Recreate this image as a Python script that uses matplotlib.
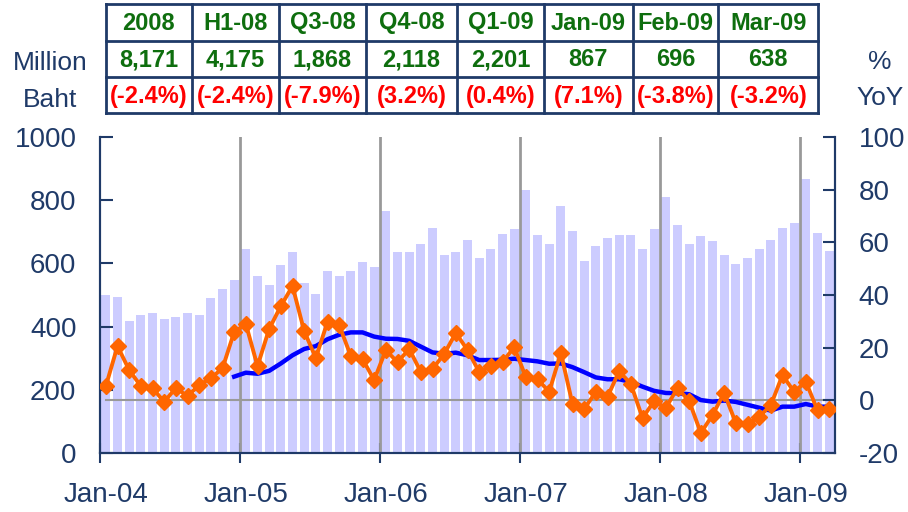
import numpy as np
import matplotlib
matplotlib.use("Agg")
import matplotlib.pyplot as plt

plt.rcParams["font.family"] = ["Liberation Sans", "DejaVu Sans"]
plt.rcParams["axes.unicode_minus"] = False

NAVY = "#1F3A68"
GREEN = "#0E6E0E"

# monthly values, Jan-04 .. Mar-09 (million baht)
sales = [500, 494, 418, 437, 443, 424, 430, 443, 437, 490, 519, 547,
         645, 560, 532, 595, 636, 538, 503, 576, 560, 576, 604, 589,
         766, 636, 636, 661, 712, 627, 636, 674, 617, 645, 693, 709,
         832, 690, 661, 782, 703, 608, 655, 680, 690, 690, 645, 709,
         810, 721, 661, 687, 671, 627, 598, 617, 645, 674, 712, 728,
         867, 696, 638]

# % YoY growth
yoy = [5.4, 20.6, 11.5, 5.4, 4.7, -0.6, 4.7, 1.6, 5.8, 8.4, 12.2, 25.9,
       29.0, 13.0, 27.1, 35.8, 43.4, 26.3, 16.1, 29.8, 28.6, 16.8, 15.7, 7.7,
       19.1, 14.5, 19.5, 10.8, 11.9, 17.6, 25.6, 19.1, 10.8, 13.0, 14.5, 20.2,
       8.8, 8.1, 3.2, 18.0, -1.4, -3.3, 3.2, 1.3, 11.1, 6.2, -6.7, -0.3,
       -2.9, 4.7, -0.3, -12.4, -5.6, 2.8, -8.6, -9.0, -6.3, -1.8, 9.6, 3.2,
       7.1, -3.8, -3.2]

# 12-month average of YoY growth (starts Dec-04)
yoy_avg = [np.nan] * 11 + [
    9.0, 10.5, 10.1, 11.2, 14.0, 17.1, 19.5, 20.6, 23.2, 24.9, 25.8, 25.8,
    24.2, 23.4, 23.3, 22.6, 20.4, 18.2, 17.7, 18.1, 17.1, 15.3, 15.3, 15.4,
    15.8, 15.3, 14.8, 13.9, 14.0, 12.6, 10.7, 8.7, 8.0, 8.0, 7.0, 5.2,
    3.6, 2.8, 2.7, 2.3, 0.1, -0.5, -0.1, -0.6, -1.7, -2.8, -3.9, -2.4,
    -2.4, -1.4, -2.4, -2.4]

year_labels = ["Jan-04", "Jan-05", "Jan-06", "Jan-07", "Jan-08", "Jan-09"]

tbl_head = ["2008", "H1-08", "Q3-08", "Q4-08", "Q1-09", "Jan-09", "Feb-09", "Mar-09"]
tbl_value = ["8,171", "4,175", "1,868", "2,118", "2,201", "867", "696", "638"]
tbl_yoy = ["(-2.4%)", "(-2.4%)", "(-7.9%)", "(3.2%)", "(0.4%)", "(7.1%)", "(-3.8%)", "(-3.2%)"]

x = np.arange(len(sales))

W, H = 908, 512
fig = plt.figure(figsize=(W / 100, H / 100), dpi=100)
ax = fig.add_axes([100 / W, 1 - 453 / H, 735 / W, 316 / H])
ax2 = ax.twinx()

ax.bar(x, sales, width=0.75, color="#CCCCFF", zorder=1)
ax.set_xlim(-0.5, len(sales) - 0.5)
ax.set_ylim(0, 1000)
ax.set_yticks(range(0, 1001, 200))

for yr in range(1, 6):
    ax.axvline(yr * 12 - 0.5, color="#999999", lw=2, zorder=2)

ax2.plot([0, len(sales) - 1], [0, 0], color="#999999", lw=1.5, zorder=1)
ax2.plot(x, yoy_avg, color="#0000FF", lw=3.2, zorder=2)
ax2.plot(x, yoy, color="#FF6600", lw=2.8, marker="D", ms=8, zorder=3)
ax2.set_ylim(-20, 100)
ax2.set_yticks(range(-20, 101, 20))

# ticks on month boundaries, labels centred on each January
ax.set_xticks(np.arange(0, 61, 12) - 0.5)
ax.set_xticklabels([])
ax.set_xticks(np.arange(0, 61, 12), minor=True)
ax.set_xticklabels(year_labels, minor=True)

for a in (ax, ax2):
    a.spines["top"].set_visible(False)
    for s in ("left", "right", "bottom"):
        a.spines[s].set_color(NAVY)
        a.spines[s].set_linewidth(1.5)
    a.tick_params(colors=NAVY, labelsize=20, width=1.5)
ax.tick_params(axis="y", direction="in", length=9, pad=17)
ax2.tick_params(axis="y", direction="in", length=9, pad=17)
ax.tick_params(axis="x", which="major", direction="inout", length=15)
ax.tick_params(axis="x", which="minor", length=0, pad=21, labelsize=20, colors=NAVY)

# summary table on top
col_edges = [105.5, 192, 279, 366, 456.7, 544, 632.7, 718.3, 818.3]
row_edges = [4, 41, 77, 113]
row_mid = [23, 60, 97]
rows = [(tbl_head, GREEN), (tbl_value, GREEN), (tbl_yoy, "#FF0000")]
for r, (vals, col) in enumerate(rows):
    for c, v in enumerate(vals):
        xc = (col_edges[c] + col_edges[c + 1]) / 2
        fig.text(xc / W, 1 - row_mid[r] / H, v, ha="center", va="center",
                 fontsize=17, fontweight="bold", color=col)
for xe in col_edges:
    fig.add_artist(plt.Line2D([xe / W] * 2, [1 - row_edges[0] / H, 1 - row_edges[-1] / H],
                              color=NAVY, lw=2))
for ye in row_edges:
    fig.add_artist(plt.Line2D([col_edges[0] / W, col_edges[-1] / W], [1 - ye / H] * 2,
                              color=NAVY, lw=2))

fig.text(50 / W, 1 - 63 / H, "Million", ha="center", va="center", fontsize=19, color=NAVY)
fig.text(50 / W, 1 - 100 / H, "Baht", ha="center", va="center", fontsize=19, color=NAVY)
fig.text(880 / W, 1 - 62 / H, "%", ha="center", va="center", fontsize=19, color=NAVY)
fig.text(880 / W, 1 - 98 / H, "YoY", ha="center", va="center", fontsize=19, color=NAVY)

fig.savefig("out.png", dpi=100)
plt.close(fig)
